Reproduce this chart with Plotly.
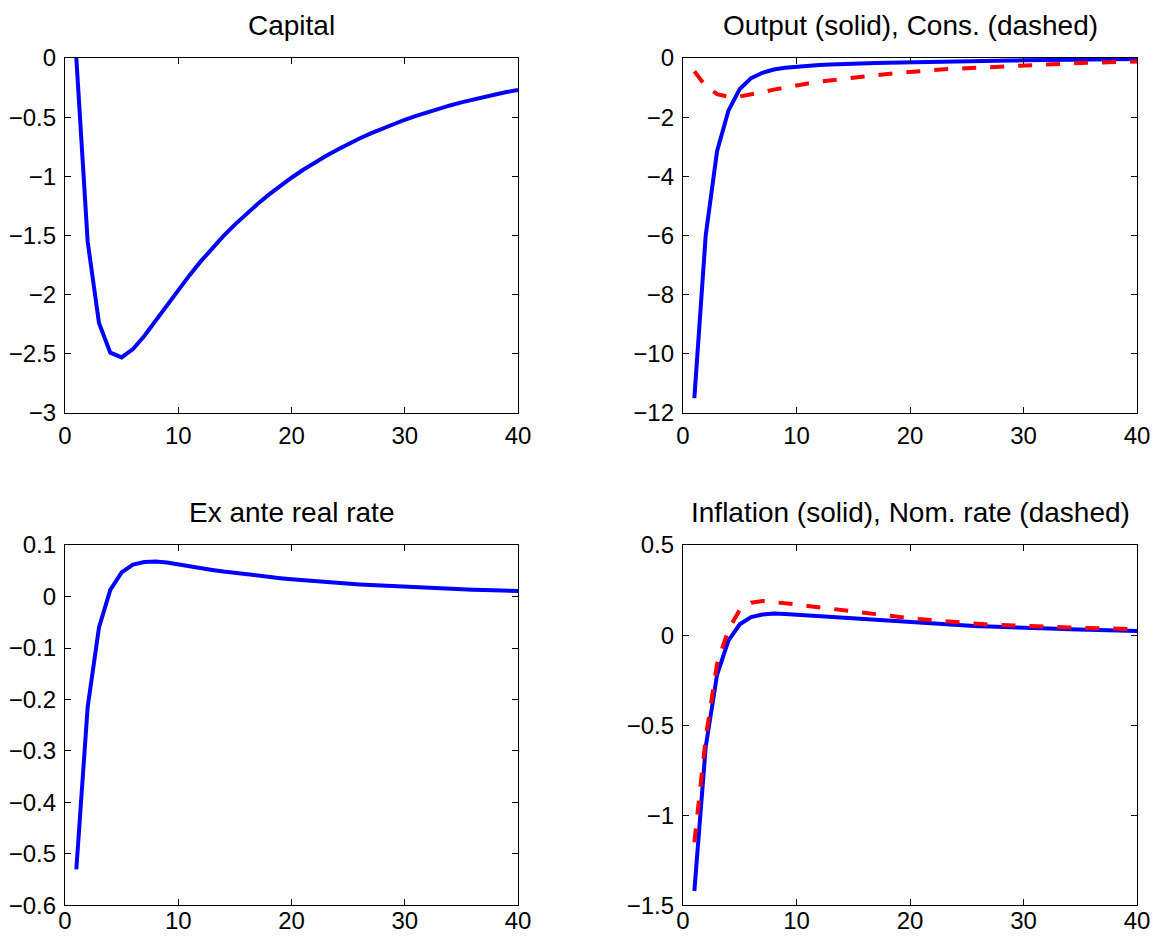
import plotly.graph_objects as go

periods = list(range(1, 41))

capital = [0.0, -1.55, -2.24, -2.49, -2.53, -2.46, -2.35, -2.22, -2.09, -1.96,
           -1.835, -1.717, -1.607, -1.504, -1.408, -1.318, -1.234, -1.155, -1.081, -1.012,
           -0.947, -0.886, -0.830, -0.777, -0.727, -0.680, -0.637, -0.596, -0.558, -0.522,
           -0.489, -0.457, -0.428, -0.401, -0.375, -0.351, -0.329, -0.308, -0.288, -0.270]

output = [-11.5, -6.0, -3.15, -1.78, -1.05, -0.68, -0.50, -0.39, -0.33, -0.29,
          -0.26, -0.24, -0.22, -0.20, -0.19, -0.18, -0.17, -0.16, -0.15, -0.14,
          -0.13, -0.125, -0.12, -0.115, -0.11, -0.10, -0.095, -0.09, -0.085, -0.08,
          -0.075, -0.07, -0.065, -0.06, -0.055, -0.05, -0.045, -0.04, -0.035, -0.03]

consumption = [-0.45, -0.95, -1.22, -1.31, -1.30, -1.24, -1.15, -1.07, -0.99, -0.92,
               -0.86, -0.80, -0.75, -0.70, -0.66, -0.62, -0.58, -0.54, -0.50, -0.47,
               -0.44, -0.41, -0.38, -0.36, -0.34, -0.32, -0.30, -0.28, -0.26, -0.24,
               -0.225, -0.21, -0.195, -0.18, -0.17, -0.16, -0.15, -0.14, -0.13, -0.12]

real_rate = [-0.53, -0.215, -0.06, 0.013, 0.047, 0.062, 0.067, 0.068, 0.066, 0.062,
             0.0585, 0.055, 0.0517, 0.0486, 0.0457, 0.043, 0.0404, 0.038, 0.0357, 0.0336,
             0.0316, 0.0297, 0.028, 0.0264, 0.0249, 0.0235, 0.0222, 0.021, 0.0198, 0.0187,
             0.0177, 0.0167, 0.0158, 0.0149, 0.0141, 0.0133, 0.0126, 0.0119, 0.0112, 0.0106]

inflation = [-1.42, -0.62, -0.22, -0.03, 0.06, 0.10, 0.115, 0.12, 0.118, 0.114,
             0.109, 0.104, 0.099, 0.094, 0.090, 0.086, 0.082, 0.078, 0.074, 0.070,
             0.066, 0.063, 0.059, 0.056, 0.053, 0.050, 0.048, 0.045, 0.043, 0.041,
             0.039, 0.037, 0.035, 0.033, 0.031, 0.029, 0.028, 0.026, 0.025, 0.023]

nominal_rate = [-1.15, -0.57, -0.16, 0.03, 0.14, 0.18, 0.19, 0.185, 0.178, 0.170,
                0.162, 0.154, 0.146, 0.138, 0.131, 0.124, 0.116, 0.108, 0.101, 0.094,
                0.088, 0.082, 0.076, 0.071, 0.067, 0.063, 0.059, 0.056, 0.053, 0.051,
                0.049, 0.047, 0.045, 0.043, 0.041, 0.039, 0.037, 0.035, 0.034, 0.033]

titles = ["Capital", "Output (solid), Cons. (dashed)",
          "Ex ante real rate", "Inflation (solid), Nom. rate (dashed)"]

x_ticks = [0, 10, 20, 30, 40]
y_ranges = [[-3, 0], [-12, 0], [-0.6, 0.1], [-1.5, 0.5]]
y_ticks = [[-3, -2.5, -2, -1.5, -1, -0.5, 0],
           [-12, -10, -8, -6, -4, -2, 0],
           [-0.6, -0.5, -0.4, -0.3, -0.2, -0.1, 0, 0.1],
           [-1.5, -1, -0.5, 0, 0.5]]

BLUE = "#0000ff"
RED = "#ff0000"
FONT = "Liberation Sans, Arial, Helvetica, sans-serif"
TICK_SIZE = 24
TITLE_SIZE = 28

fig = go.Figure()

x_domains = [[0, 0.4226], [0.5765, 1], [0, 0.4226], [0.5765, 1]]
y_domains = [[0.5824, 1], [0.5824, 1], [0.003, 0.427], [0.003, 0.427]]
x_standoff = [1, 1, -6, -6]

series = [
    [(capital, BLUE, "solid")],
    [(output, BLUE, "solid"), (consumption, RED, "14px,14px")],
    [(real_rate, BLUE, "solid")],
    [(inflation, BLUE, "solid"), (nominal_rate, RED, "14px,14px")],
]

for i in range(4):
    n = "" if i == 0 else str(i + 1)
    for vals, col, dash in series[i]:
        fig.add_trace(go.Scatter(x=periods, y=vals, mode="lines",
                                 line=dict(color=col, width=4, dash=dash),
                                 xaxis="x" + n, yaxis="y" + n,
                                 showlegend=False, hoverinfo="skip"))
    axis_common = dict(showline=True, linecolor="black", linewidth=1.3,
                       mirror="ticks", ticks="inside", ticklen=6,
                       tickcolor="black", tickwidth=1, showgrid=False,
                       zeroline=False, automargin=False,
                       tickfont=dict(family=FONT, size=TICK_SIZE, color="black"))
    fig.update_layout(**{
        "xaxis" + n: dict(domain=x_domains[i], range=[0, 40], tickvals=x_ticks,
                          anchor="y" + n, ticklabelstandoff=x_standoff[i], **axis_common),
        "yaxis" + n: dict(domain=y_domains[i], range=y_ranges[i],
                          tickvals=y_ticks[i],
                          ticktext=[("%g" % v).replace("-", "\u2212") for v in y_ticks[i]],
                          anchor="x" + n, ticklabelstandoff=3, **axis_common),
    })
    fig.add_annotation(text=titles[i], xref="x" + n + " domain", yref="y" + n + " domain",
                       x=0.5, y=1, xanchor="center", yanchor="bottom", yshift=15,
                       showarrow=False,
                       font=dict(family=FONT, size=TITLE_SIZE, color="black"))

fig.update_layout(width=1156, height=937, template="none",
                  margin=dict(l=65, r=19, t=58, b=29, autoexpand=False),
                  paper_bgcolor="white", plot_bgcolor="white")

fig.write_html("out.html", config={"displayModeBar": False},
               post_script="document.body.style.margin='0';document.body.style.overflow='hidden';")
